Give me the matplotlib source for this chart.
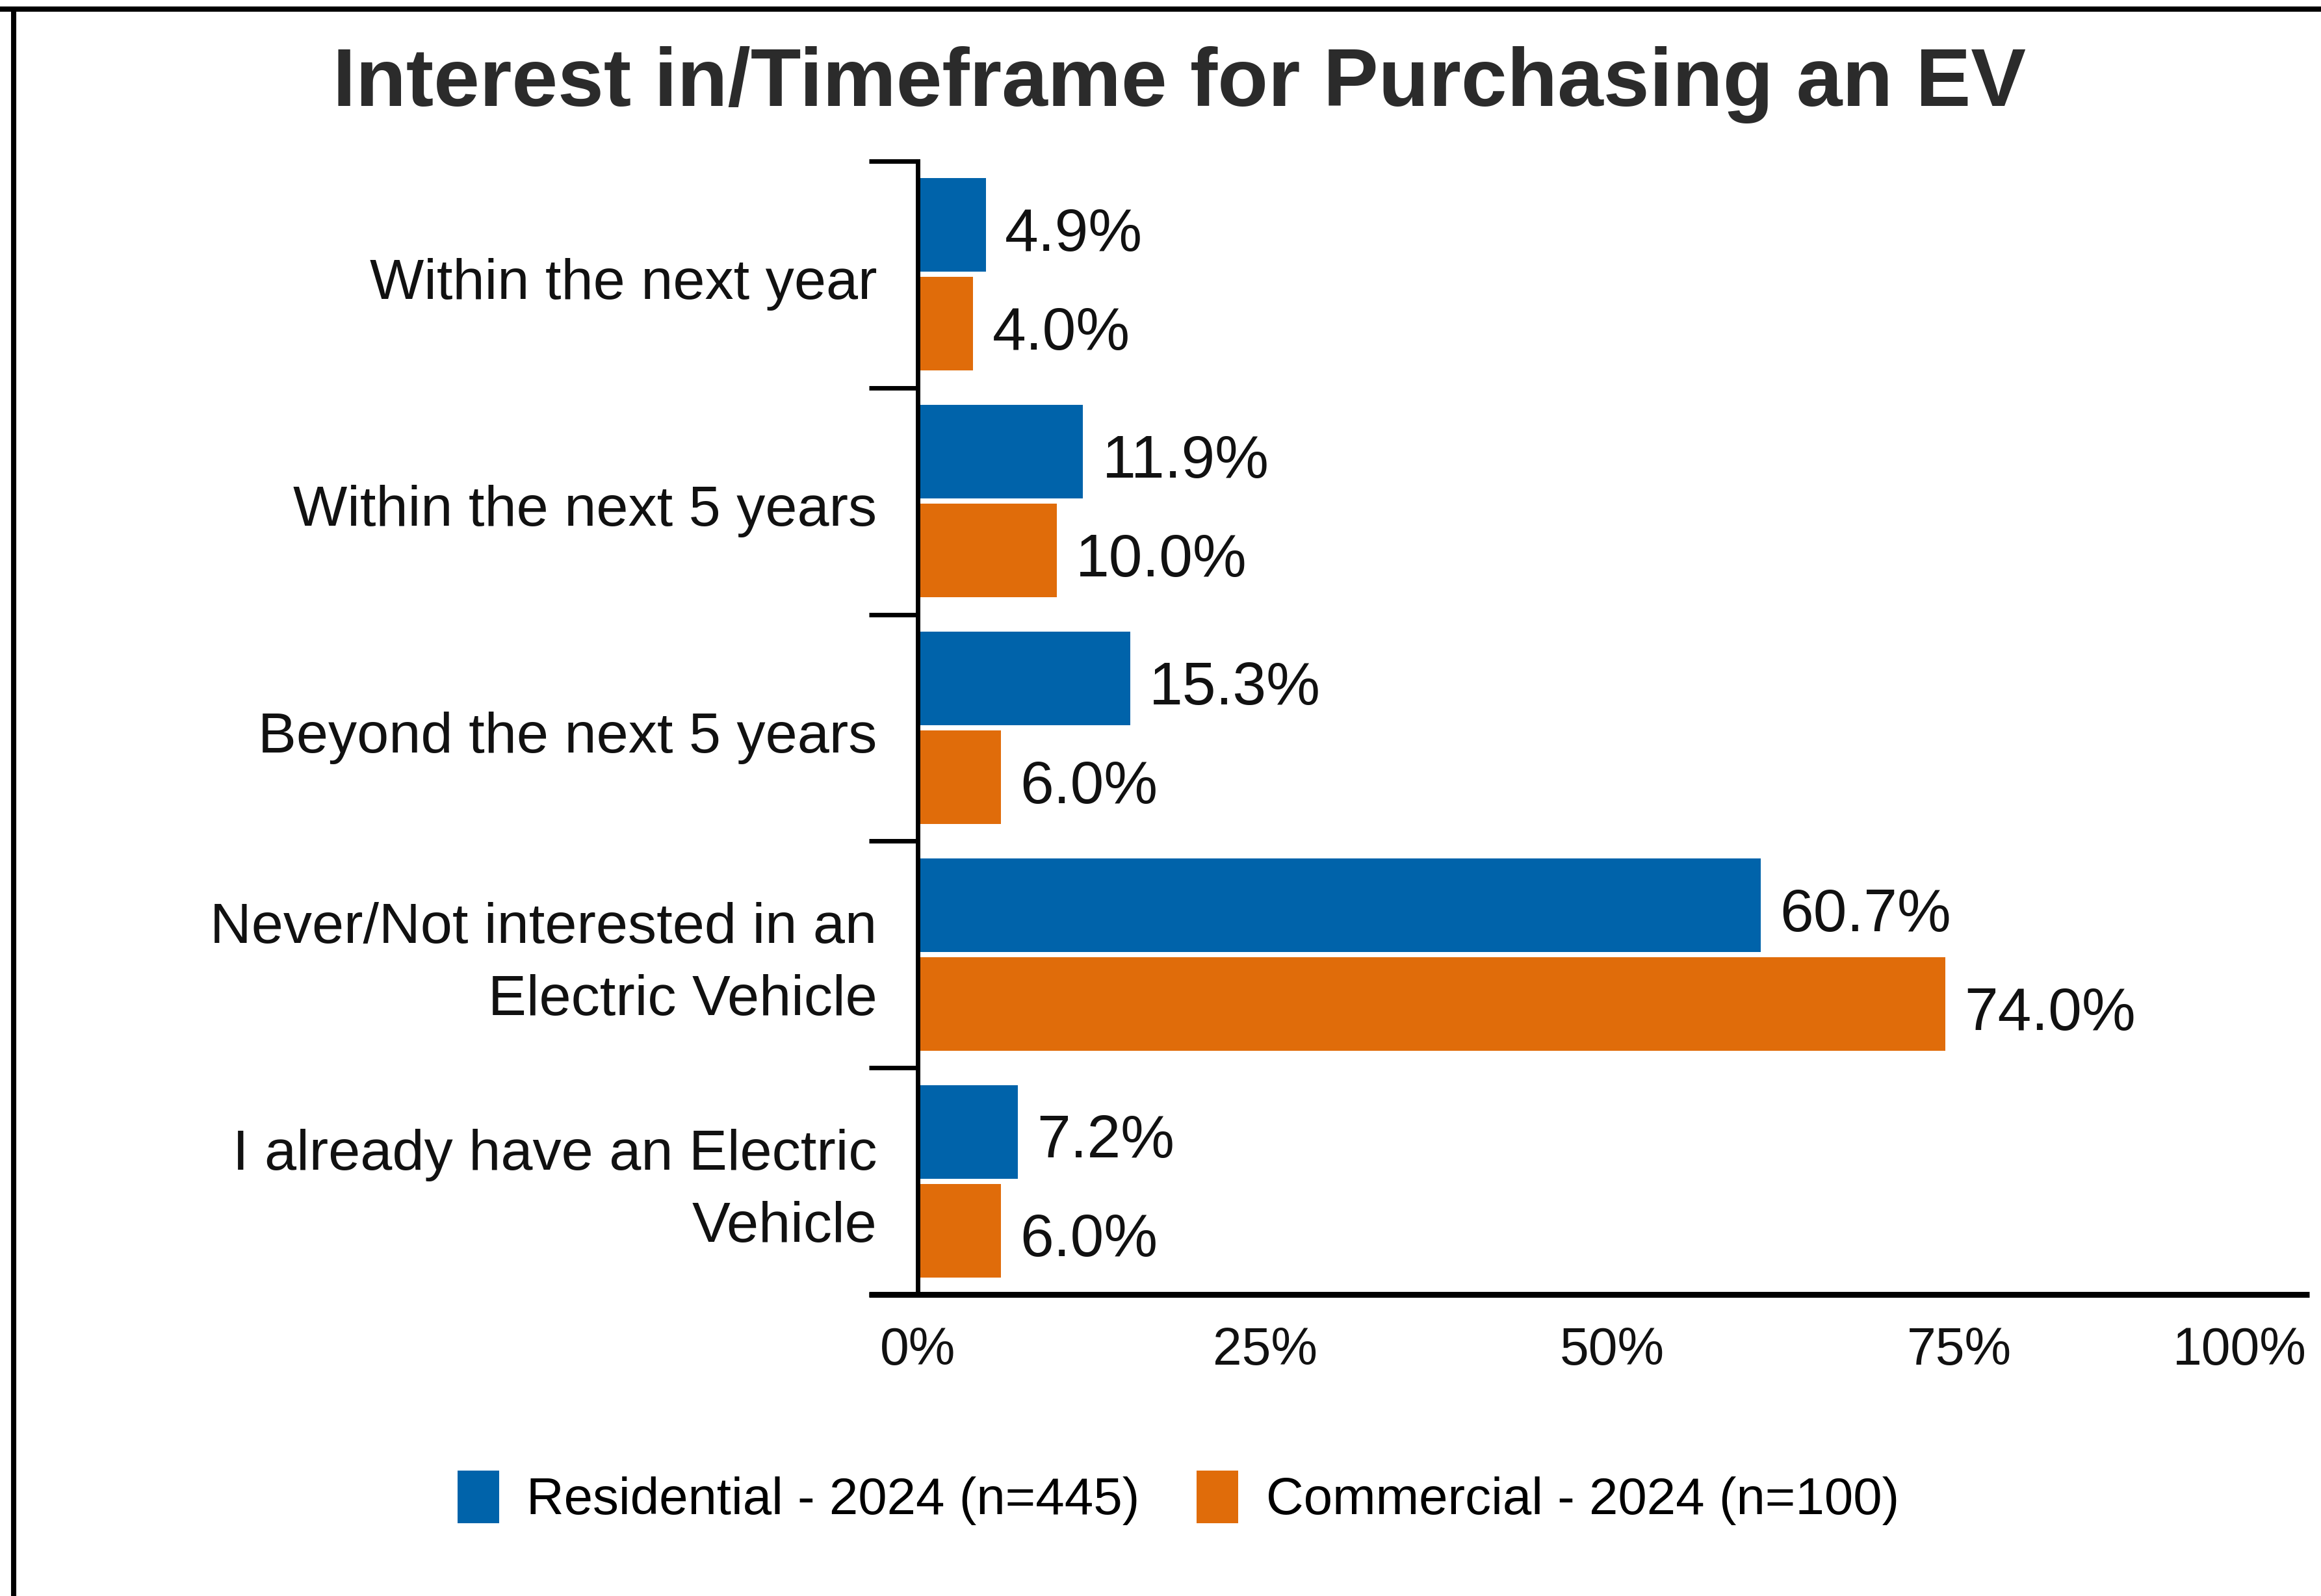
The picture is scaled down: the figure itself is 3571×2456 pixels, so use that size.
import matplotlib
matplotlib.use("Agg")
import matplotlib.pyplot as plt
from matplotlib.lines import Line2D
from matplotlib.patches import Patch
import numpy as np

# ---- data ----
categories = [
    "Within the next year",
    "Within the next 5 years",
    "Beyond the next 5 years",
    "Never/Not interested in an\nElectric Vehicle",
    "I already have an Electric\nVehicle",
]
residential = [4.9, 11.9, 15.3, 60.7, 7.2]
commercial = [4.0, 10.0, 6.0, 74.0, 6.0]
series_names = ["Residential - 2024 (n=445)", "Commercial - 2024 (n=100)"]
x_ticks = [0, 25, 50, 75, 100]
x_tick_labels = ["0%", "25%", "50%", "75%", "100%"]
title = "Interest in/Timeframe for Purchasing an EV"

# ---- style ----
BLUE = "#0063AA"
ORANGE = "#E06C0A"
FONT = "Liberation Sans"
W, H = 3571, 2456
DPI = 100

plt.rcParams["font.family"] = [FONT, "DejaVu Sans"]

fig = plt.figure(figsize=(W / DPI, H / DPI), dpi=DPI)
fig.patch.set_facecolor("white")

# axes box in pixels: left 1337, right 3553, top 248, bottom 1992
left_px, right_px, top_px, bottom_px = 1337, 3553, 248, 1992
ax = fig.add_axes([left_px / W, 1 - bottom_px / H,
                   (right_px - left_px) / W, (bottom_px - top_px) / H])

y = np.arange(len(categories))
bar_h = 0.413
offset = 0.218
ax.barh(y - offset, residential, height=bar_h, color=BLUE, label=series_names[0], zorder=2)
ax.barh(y + offset, commercial, height=bar_h, color=ORANGE, label=series_names[1], zorder=2)

# value labels
for yy, v in zip(y - offset, residential):
    ax.annotate(f"{v:.1f}%", xy=(v, yy), xytext=(21, -4.5), textcoords="offset points",
                ha="left", va="center_baseline", fontsize=67, color="#111111")
for yy, v in zip(y + offset, commercial):
    ax.annotate(f"{v:.1f}%", xy=(v, yy), xytext=(21, -4.5), textcoords="offset points",
                ha="left", va="center_baseline", fontsize=67, color="#111111")

# scales: zero at 1412 px, 21.37 px per percentage point
px_per_unit = 21.37
x0 = (left_px - 1412) / px_per_unit
x1 = x0 + (right_px - left_px) / px_per_unit
ax.set_xlim(x0, x1)
ax.set_ylim(len(categories) - 0.5, -0.5)

# spines
for s in ["top", "right"]:
    ax.spines[s].set_visible(False)
ax.spines["left"].set_position(("data", 0))
ax.spines["left"].set_linewidth(5)
ax.spines["left"].set_zorder(3)
ax.spines["bottom"].set_linewidth(6.5)
ax.spines["bottom"].set_capstyle("butt")

# y ticks: tick marks at category boundaries, labels drawn as text next to the spine
ax.set_yticks([])
ax.set_yticks(np.arange(-0.5, len(categories) + 0.5, 1.0), minor=True)
ax.tick_params(axis="y", which="minor", length=54, width=5, color="black")
for yy, name in zip(y, categories):
    ax.annotate(name, xy=(0, yy), xytext=(-45, -11), textcoords="offset points",
                ha="right", va="center", multialignment="right", linespacing=1.47,
                fontsize=63.5, color="#111111")

# x ticks
ax.set_xticks(x_ticks)
ax.set_xticklabels(x_tick_labels, fontsize=58, color="#111111")
ax.tick_params(axis="x", which="both", length=0, pad=35)
ax.get_xticklabels()[-1].set_ha("right")

# title
fig.text(1815 / W, 1 - 163 / H, title, ha="center", va="baseline",
         fontsize=91.5, fontweight="bold", color="#2B2B2B")

# legend
handles = [Patch(facecolor=BLUE, edgecolor="none"), Patch(facecolor=ORANGE, edgecolor="none")]
fig.legend(handles, series_names, loc="center", bbox_to_anchor=(1813 / W, 1 - 2305 / H),
           ncol=2, frameon=False, fontsize=57.5, handlelength=0.8, handleheight=1.2,
           handletextpad=0.53, columnspacing=1.1, borderpad=0, borderaxespad=0)

# outer frame lines (top and left)
fig.add_artist(Line2D([0, 1], [1 - 14 / H, 1 - 14 / H], transform=fig.transFigure,
                      color="black", linewidth=5.8, solid_capstyle="butt"))
fig.add_artist(Line2D([21 / W, 21 / W], [0, 1 - 14 / H], transform=fig.transFigure,
                      color="black", linewidth=5.8, solid_capstyle="butt"))

fig.savefig("out.png", dpi=DPI, facecolor="white")
